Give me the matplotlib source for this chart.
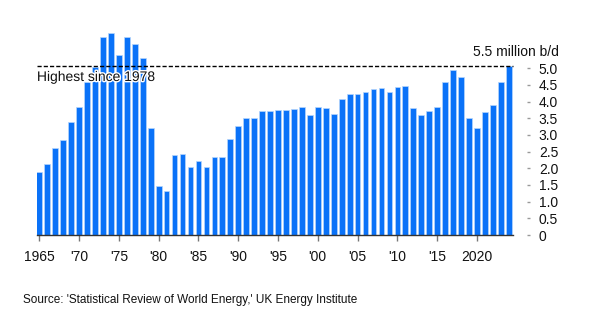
import matplotlib.pyplot as plt
import matplotlib.patheffects as pe

plt.rcParams['font.family'] = ['Liberation Sans', 'DejaVu Sans']

# production by year (million b/d)
years = list(range(1965, 2025))
values = [1.90, 2.13, 2.61, 2.84, 3.38, 3.85, 4.58, 5.03, 5.93, 6.07,
          5.40, 5.93, 5.72, 5.30, 3.22, 1.48, 1.31, 2.40, 2.44, 2.04,
          2.21, 2.05, 2.35, 2.35, 2.89, 3.27, 3.50, 3.52, 3.71, 3.73,
          3.74, 3.76, 3.78, 3.85, 3.60, 3.85, 3.82, 3.62, 4.08, 4.23,
          4.23, 4.29, 4.37, 4.41, 4.29, 4.43, 4.47, 3.81, 3.60, 3.71,
          3.85, 4.58, 4.94, 4.75, 3.50, 3.22, 3.68, 3.89, 4.58, 5.07]
record_level = 5.07

xticks = list(range(1965, 2021, 5))
xlabels = ['1965', "'70", "'75", "'80", "'85", "'90", "'95", "'00",
           "'05", "'10", "'15", '2020']
yticks = [0, 0.5, 1.0, 1.5, 2.0, 2.5, 3.0, 3.5, 4.0, 4.5, 5.0]
ylabels = ['0', '0.5', '1.0', '1.5', '2.0', '2.5', '3.0', '3.5', '4.0', '4.5', '5.0']

x_lo, x_hi = 1964.67, 2024.53   # extent of the baseline / dashed line

fig = plt.figure(figsize=(5.91, 3.25), dpi=100)
ax = fig.add_axes([0.0621, 0.2769, 0.8296, 0.6668])

ax.bar(years, values, width=0.72, color='#0a72f8', edgecolor='#b5d5fc', linewidth=0.5)
ax.hlines(record_level, x_lo, x_hi, color='black', lw=1, linestyle=(0, (3, 1.5)))

ax.set_xlim(x_lo, 2026.29)
ax.set_ylim(0, 6.5)

for s in ['top', 'left', 'right']:
    ax.spines[s].set_visible(False)
ax.spines['bottom'].set_bounds(x_lo, x_hi)
ax.spines['bottom'].set_color('#333333')
ax.spines['bottom'].set_linewidth(1)

ax.set_xticks(xticks)
ax.set_xticklabels(xlabels)
ax.yaxis.tick_right()
ax.set_yticks(yticks)
ax.set_yticklabels(ylabels)
ax.tick_params(axis='x', length=4, width=1, color='#777777', pad=6.5,
               labelsize=10, labelcolor='#111111')
ax.tick_params(axis='y', length=2.5, width=1, color='#999999', pad=6,
               labelsize=10, labelcolor='#111111')

ax.text(1964.7, record_level - 0.12, 'Highest since 1978', ha='left', va='top',
        fontsize=10, color='#111111',
        path_effects=[pe.withStroke(linewidth=2, foreground='white')])
fig.text(559 / 591, 1 - 52 / 325, '5.5 million b/d', ha='right', va='center',
         fontsize=10, color='#111111')
fig.text(23 / 591, 1 - 300 / 325,
         "Source: 'Statistical Review of World Energy,' UK Energy Institute",
         ha='left', va='center', fontsize=8.5, color='#111111')

fig.savefig('out.png', dpi=100)
